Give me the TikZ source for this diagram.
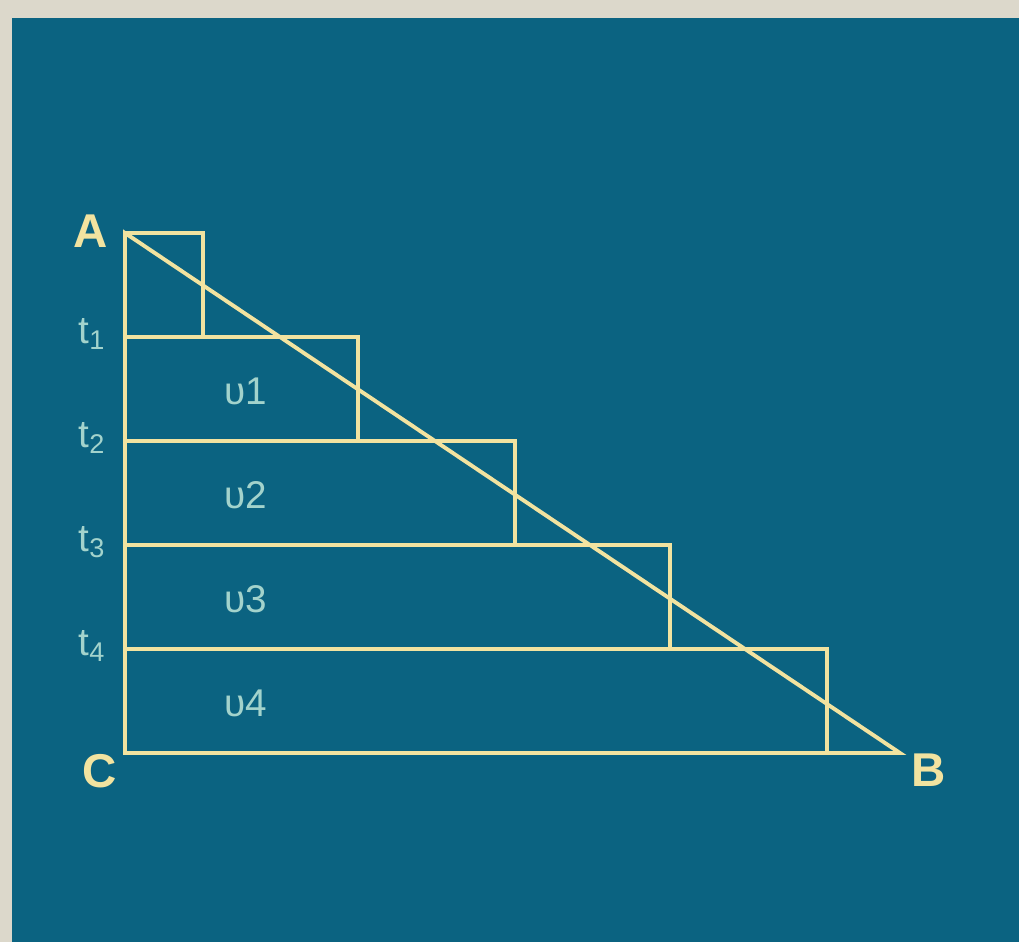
\documentclass[tikz,border=0pt]{standalone}
\usepackage{fontspec}
\setmainfont{Liberation Sans}
\usetikzlibrary{calc}
\definecolor{board}{HTML}{0B6381}
\definecolor{frame}{HTML}{DCD8CB}
\definecolor{chalk}{HTML}{F2E3A0}
\definecolor{mint}{HTML}{A3D3CC}

\begin{document}
\begin{tikzpicture}[x=0.02cm,y=-0.02cm,line width=2.2pt]
    \fill[frame] (0,0) rectangle (1019,942);
    \fill[board] (12,18) rectangle (1019,942);
    \useasboundingbox (0,0) rectangle (1019,942);
    \coordinate (A) at (125,233);
    \coordinate (C) at (125,753);
    \coordinate (B) at (900,753);
    \foreach \i/\w in {0/203,1/358,2/515,3/670,4/827}{
      \draw[chalk] (125,{233+104*\i}) rectangle (\w,{233+104*(\i+1)});}
    \draw[chalk] (A) -- (B) -- (C) -- cycle;
    \foreach \i in {1,...,4}{
      \node[text=mint,font=\fontsize{22}{26}\selectfont] (t\i) at (92,{230+104*\i}) {t\textsubscript{\i}};
      \node[text=mint,font=\fontsize{22}{26}\selectfont] (v\i) at (246,{287+104*\i}) {υ\i};}
    \node[text=chalk,font=\fontsize{27}{30}\selectfont\bfseries] (la) at (91,231) {A};
    \node[text=chalk,font=\fontsize{27}{30}\selectfont\bfseries] (lc) at (100,771) {C};
    \node[text=chalk,font=\fontsize{27}{30}\selectfont\bfseries] (lb) at (929,770) {B};
  \end{tikzpicture}
\end{document}
